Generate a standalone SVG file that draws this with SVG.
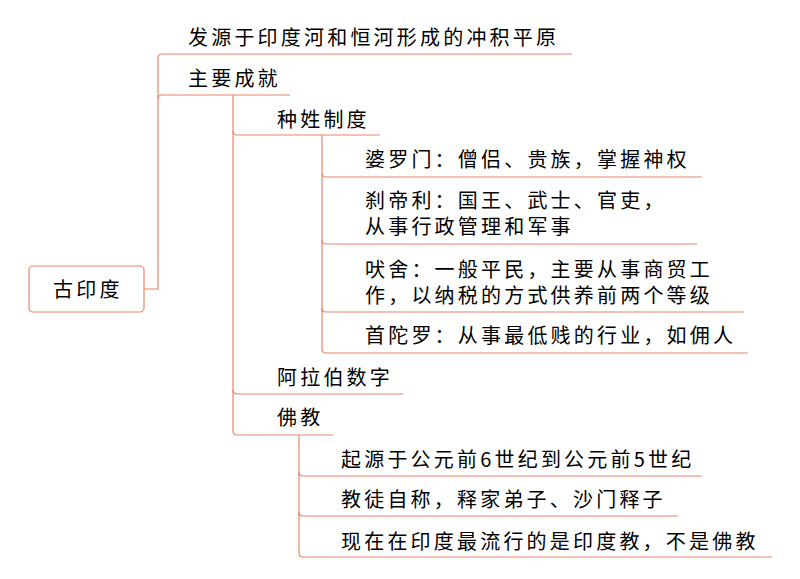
<svg xmlns="http://www.w3.org/2000/svg" width="800" height="579" viewBox="0 0 800 579">
<style>
.t{font-family:"Noto Sans CJK SC","Liberation Sans",sans-serif;font-size:20px;letter-spacing:3.2px;fill:#000}
.c{fill:none;stroke:#E8866A;stroke-width:1.2}
.box{fill:#fff;stroke:#E8866A;stroke-width:1.2}
</style>
<rect width="800" height="579" fill="#fff"/>
<g id="connectors">
<path class="c" d="M144,289 H158 V58 Q158,54 162,54 H572"/>
<path class="c" d="M158,99 Q158,95 162,95 H290"/>
<path class="c" d="M233,95 V431 Q233,435 237,435 H333"/>
<path class="c" d="M233,131 Q233,135 237,135 H380"/>
<path class="c" d="M233,390 Q233,394 237,394 H403"/>
<path class="c" d="M322,135 V349 Q322,353 326,353 H748"/>
<path class="c" d="M322,173 Q322,177 326,177 H702"/>
<path class="c" d="M322,240 Q322,244 326,244 H697"/>
<path class="c" d="M322,308 Q322,312 326,312 H744"/>
<path class="c" d="M299,435 V553 Q299,557 303,557 H772"/>
<path class="c" d="M299,472 Q299,476 303,476 H702"/>
<path class="c" d="M299,512 Q299,516 303,516 H678"/>
</g>
<g id="root"><rect class="box" x="29" y="266" width="115" height="46" rx="4"/><text class="t" x="53" y="296.5">古印度</text></g>
<g id="n1"><text class="t" x="188" y="44.5">发源于印度河和恒河形成的冲积平原</text></g>
<g id="n2"><text class="t" x="188" y="86">主要成就</text></g>
<g id="n2a"><text class="t" x="277" y="126.5">种姓制度</text></g>
<g id="n2a1"><text class="t" x="365" y="166.5">婆罗门：僧侣、贵族，掌握神权</text></g>
<g id="n2a2"><text class="t" x="365" y="207.5">刹帝利：国王、武士、官吏，</text><text class="t" x="365" y="234">从事行政管理和军事</text></g>
<g id="n2a3"><text class="t" x="365" y="276.5">吠舍：一般平民，主要从事商贸工</text><text class="t" x="365" y="303">作，以纳税的方式供养前两个等级</text></g>
<g id="n2a4"><text class="t" x="365" y="343">首陀罗：从事最低贱的行业，如佣人</text></g>
<g id="n2b"><text class="t" x="277" y="385">阿拉伯数字</text></g>
<g id="n2c"><text class="t" x="277" y="425">佛教</text></g>
<g id="n2c1"><text class="t" x="341" y="466.5">起源于公元前6世纪到公元前5世纪</text></g>
<g id="n2c2"><text class="t" x="341" y="506.5">教徒自称，释家弟子、沙门释子</text></g>
<g id="n2c3"><text class="t" x="341" y="548.5">现在在印度最流行的是印度教，不是佛教</text></g>
</svg>
